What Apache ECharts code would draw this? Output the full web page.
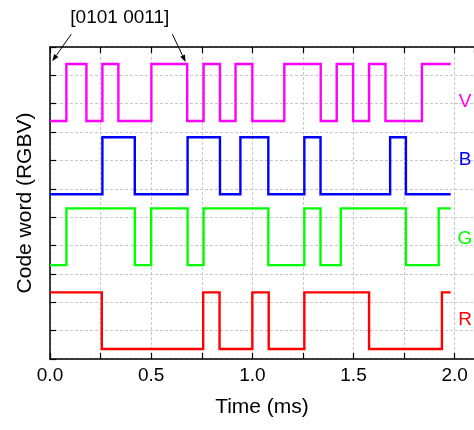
<!DOCTYPE html>
<html>
<head>
<meta charset="utf-8">
<script src="https://cdn.jsdelivr.net/npm/echarts@6/dist/echarts.min.js"></script>
<style>html,body{margin:0;padding:0;background:#fff}#c{width:474px;height:430px}</style>
</head>
<body>
<div id="c"></div>
<script>
// Channel names and colours
const channels = ['V', 'B', 'G', 'R'];
const colors = ['#ff00ff', '#0000ff', '#00ff00', '#ff0000'];
// Edge times (ms) for each channel
const vEdges = [0.081, 0.180, 0.259, 0.338, 0.501, 0.678, 0.759, 0.840, 0.917, 1.000, 1.158, 1.338, 1.417, 1.498, 1.577, 1.658, 1.838];
const bEdges = [0.259, 0.419, 0.680, 0.840, 0.941, 1.079, 1.257, 1.337, 1.681, 1.759];
const gEdges = [0.081, 0.419, 0.500, 0.680, 0.759, 1.079, 1.257, 1.337, 1.437, 1.759, 1.921];
const rEdges = [0.256, 0.757, 0.838, 1.000, 1.081, 1.257, 1.577, 1.937];
// starting state (1 = high) per channel
const startBits = [0, 0, 0, 1];
// high / low levels per channel
const highLevels = [10.40, 7.82, 5.31, 2.35];
const lowLevels = [8.39, 5.81, 3.31, 0.35];
// label positions (y) per channel
const labelY = [9.06, 7.02, 4.23, 1.38];
const labelX = 2.051;
const tStart = 0, tEnd = 1.98;
// x tick labels
const xTicks = [0.0, 0.5, 1.0, 1.5, 2.0];
const annotation = '[0101 0011]';

const edgesList = [vEdges, bEdges, gEdges, rEdges];

function buildSeries(i) {
  const hi = highLevels[i], lo = lowLevels[i];
  let state = startBits[i];
  const lvl = s => s ? hi : lo;
  const pts = [[tStart, lvl(state)]];
  edgesList[i].forEach(t => {
    pts.push([t, lvl(state)]);
    state = 1 - state;
    pts.push([t, lvl(state)]);
  });
  pts.push([tEnd, lvl(state)]);
  return pts;
}

const chart = echarts.init(document.getElementById('c'));
const font = '"Liberation Sans", Arial, sans-serif';
const xMax = 2.0955;

const series = channels.map((name, i) => ({
  type: 'line',
  name,
  data: buildSeries(i),
  showSymbol: false,
  symbol: 'none',
  lineStyle: { color: colors[i], width: 2.4, join: 'miter' },
  itemStyle: { color: colors[i] },
  z: 5,
  animation: false,
  markPoint: {
    symbol: 'circle',
    symbolSize: 0,
    animation: false,
    label: {
      show: true, position: 'inside', formatter: name,
      color: colors[i], fontSize: 19, fontFamily: font
    },
    data: [{ coord: [labelX, labelY[i]] }]
  }
}));

const isLabelTick = v => xTicks.some(t => Math.abs(t - v) < 1e-6);

chart.setOption({
  animation: false,
  backgroundColor: '#fff',
  grid: { left: 50, right: 0, top: 47, bottom: 71, containLabel: false },
  xAxis: [{
    type: 'value', min: 0, max: xMax, interval: 0.25,
    position: 'bottom',
    name: 'Time (ms)', nameLocation: 'middle', nameGap: 38,
    nameTextStyle: { fontSize: 21, fontFamily: font, color: '#000' },
    axisLine: { show: true, onZero: false, lineStyle: { color: '#000', width: 1.5 } },
    axisTick: { show: true, inside: true, length: 6, lineStyle: { color: '#000', width: 1.2 } },
    axisLabel: {
      show: true, margin: 7, fontSize: 19, fontFamily: font, color: '#000',
      showMaxLabel: false,
      formatter: v => isLabelTick(v) ? v.toFixed(1) : ''
    },
    splitLine: { show: true, lineStyle: { color: '#c8c8c8', type: [3, 2], width: 1 } }
  }, {
    type: 'value', min: 0, max: xMax, interval: 0.25,
    position: 'top',
    axisLine: { show: true, onZero: false, lineStyle: { color: '#000', width: 1.5 } },
    axisTick: { show: true, inside: true, length: 6, lineStyle: { color: '#000', width: 1.2 } },
    axisLabel: { show: false },
    splitLine: { show: false }
  }],
  yAxis: {
    type: 'value', min: 0, max: 11, interval: 1,
    name: 'Code word (RGBV)', nameLocation: 'middle', nameGap: 14,
    nameTextStyle: { fontSize: 21, fontFamily: font, color: '#000' },
    axisLine: { show: true, onZero: false, lineStyle: { color: '#000', width: 1.5 } },
    axisTick: { show: true, inside: true, length: 6, lineStyle: { color: '#000', width: 1.2 } },
    axisLabel: { show: false },
    splitLine: { show: true, lineStyle: { color: '#c8c8c8', type: [3, 2], width: 1 } }
  },
  series
});

// annotation arrows (data coordinates -> pixels)
const arrowDefs = [
  { tail: [0.105, 11.45], tip: [0.011, 10.50] },
  { tail: [0.605, 11.45], tip: [0.670, 10.47] }
];
const elements = [];
arrowDefs.forEach(a => {
  const p0 = chart.convertToPixel({ gridIndex: 0 }, a.tail);
  const p1 = chart.convertToPixel({ gridIndex: 0 }, a.tip);
  const dx = p1[0] - p0[0], dy = p1[1] - p0[1];
  const len = Math.sqrt(dx * dx + dy * dy);
  const ux = dx / len, uy = dy / len;
  const hl = 7, hw = 2.6;
  const bx = p1[0] - ux * hl, by = p1[1] - uy * hl;
  elements.push({
    type: 'line', silent: true,
    shape: { x1: p0[0], y1: p0[1], x2: bx, y2: by },
    style: { stroke: '#000', lineWidth: 1 }
  });
  elements.push({
    type: 'polygon', silent: true,
    shape: { points: [[p1[0], p1[1]], [bx - uy * hw, by + ux * hw], [bx + uy * hw, by - ux * hw]] },
    style: { fill: '#000' }
  });
});
const tc = chart.convertToPixel({ gridIndex: 0 }, [0.345, 11]);
elements.push({
  type: 'text', silent: true,
  x: tc[0], y: 18,
  style: { text: annotation, fontSize: 19, fontFamily: font, fill: '#000', align: 'center', verticalAlign: 'middle' }
});
chart.setOption({ graphic: { elements } });
</script>
</body>
</html>
